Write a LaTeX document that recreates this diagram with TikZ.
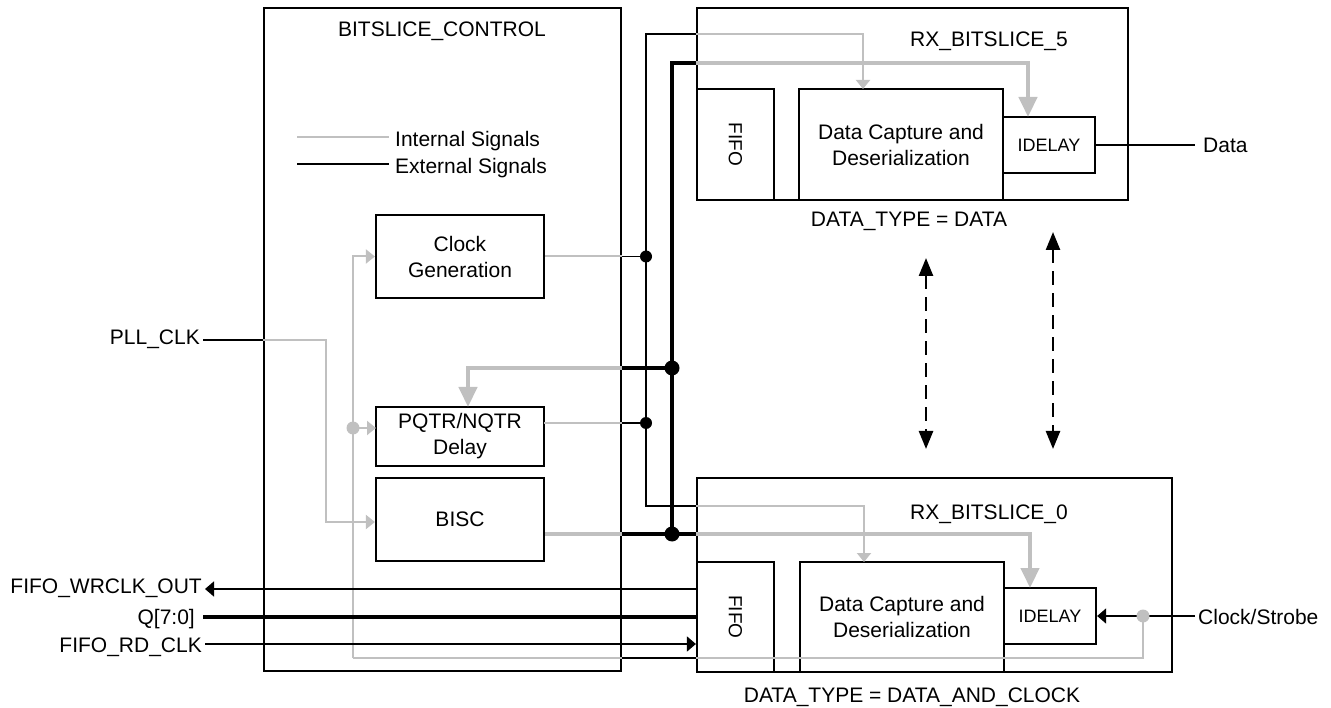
\documentclass[tikz,border=0pt]{standalone}
\usepackage{fontspec}
\setmainfont{Liberation Sans}
\usetikzlibrary{arrows.meta}
\definecolor{sig}{RGB}{192,192,192}
\newcommand\dfont{\fontsize{21}{26}\selectfont}
\begin{document}
\begin{tikzpicture}[x=1pt,y=-1pt,
  every node/.style={font=\dfont, inner sep=0pt},
  blk/.style={draw, line width=2.2pt, align=center},
  ext/.style={line width=1.6pt, draw=black},
  extw/.style={line width=4pt, draw=black},
  intl/.style={line width=2pt, draw=sig},
  intw/.style={line width=4.5pt, draw=sig},
  ta/.style={-{Triangle[length=9pt,width=14pt]}},
  tw/.style={-{Triangle[length=20pt,width=18pt]}},
  tb/.style={-{Triangle[length=9pt,width=15pt]}},
  dd/.style={line width=2.5pt, dash pattern=on 14pt off 8pt,
    {Triangle[length=18pt,width=14pt]}-{Triangle[length=18pt,width=14pt]}},
]
\path[use as bounding box] (0,0) rectangle (1331,708);

% ---------- blocks ----------
\node[blk, minimum width=357pt, minimum height=663pt] (ctrl) at (442.5,339.5) {};
\node[blk, minimum width=168pt, minimum height=83pt] (cg) at (460,256.5) {Clock\\Generation};
\node[blk, minimum width=168pt, minimum height=59pt] (pq) at (460,436.5) {PQTR/NQTR\\Delay};
\node[blk, minimum width=168pt, minimum height=83pt] (bisc) at (460,519.5) {BISC};

\node[blk, minimum width=431pt, minimum height=192pt] (rx5) at (912.5,104) {};
\node[blk, minimum width=77pt, minimum height=111pt] (fifo5) at (735.5,144.5) {};
\node[font=\fontsize{19}{22}\selectfont, rotate=-90] (fifo5t) at (fifo5.center) {FIFO};
\node[blk, minimum width=204pt, minimum height=111pt] (dcd5) at (901,144.5) {Data Capture and\\Deserialization};
\node[blk, minimum width=92pt, minimum height=56pt, font=\fontsize{18}{22}\selectfont] (idl5) at (1049,145) {IDELAY};

\node[blk, minimum width=475pt, minimum height=194pt] (rx0) at (934.5,575) {};
\node[blk, minimum width=77pt, minimum height=110pt] (fifo0) at (735.5,617) {};
\node[font=\fontsize{19}{22}\selectfont, rotate=-90] (fifo0t) at (fifo0.center) {FIFO};
\node[blk, minimum width=204pt, minimum height=110pt] (dcd0) at (902,617) {Data Capture and\\Deserialization};
\node[blk, minimum width=92pt, minimum height=56pt, font=\fontsize{18}{22}\selectfont] (idl0) at (1050,616) {IDELAY};

% ---------- titles ----------
\node[anchor=base] (tctrl) at (442,37) {BITSLICE\_CONTROL};
\node[anchor=base] (trx5) at (989,47) {RX\_BITSLICE\_5};
\node[anchor=base] (trx0) at (989,519) {RX\_BITSLICE\_0};
\node[anchor=base] (dt5) at (909,227) {DATA\_TYPE = DATA};
\node[anchor=base] (dt0) at (912,702) {DATA\_TYPE = DATA\_AND\_CLOCK};

% ---------- legend ----------
\node[anchor=base west] (li) at (395,147) {Internal Signals};
\node[anchor=base west] (le) at (395,174) {External Signals};
\draw[intl] (297,137) -- (389,137);
\draw[ext] (297,164) -- (389,164);

% ---------- external labels ----------
\node[anchor=base west] (dat) at (1203,153) {Data};
\node[anchor=base west] (cs) at (1198,624) {Clock/Strobe};
\node[anchor=base east] (pll) at (200,345) {PLL\_CLK};
\node[anchor=base east] (wr) at (202,593) {FIFO\_WRCLK\_OUT};
\node[anchor=base east] (q) at (195,624) {Q[7:0]};
\node[anchor=base east] (rd) at (202,652) {FIFO\_RD\_CLK};

% ---------- coordinates ----------
\coordinate (tT) at (646,34);
\coordinate (tB) at (646,506);
\coordinate (kT) at (672,63);
\coordinate (kM) at (672,368);
\coordinate (kB) at (672,534);
\coordinate (a5) at (863,89);
\coordinate (a0) at (864,562);
\coordinate (w5) at (1028,117);
\coordinate (w0) at (1030,588);
\coordinate (wp) at (468,407);
\coordinate (pqo) at (544,423);
\coordinate (pqi) at (376,428);
\coordinate (gB) at (353,658);
\coordinate (gD) at (353,428);
\coordinate (cD) at (1143,616);
\coordinate (yP) at (0,340);
\coordinate (yB) at (0,522);
\coordinate (pX) at (326,0);
\coordinate (yW) at (0,589);
\coordinate (yQ) at (0,617);
\coordinate (yR) at (0,644);

% ---------- thin external bus ----------
\draw[ext] (tT -| rx5.west) -- (tT) -- (tB) -- (tB -| rx0.west);
\draw[intl, ta] (tT -| rx5.west) -- (tT -| a5) -- (a5);
\draw[intl, ta] (tB -| rx0.west) -- (tB -| a0) -- (a0);

% clock generation output
\draw[intl] (cg.east) -- (cg.east -| ctrl.east);
\draw[ext] (cg.east -| ctrl.east) -- (cg.east -| tT);
\fill (cg.east -| tT) circle (6pt);
% PQTR output
\draw[intl] (pqo) -- (pqo -| ctrl.east);
\draw[ext] (pqo -| ctrl.east) -- (pqo -| tT);
\fill (pqo -| tT) circle (6pt);

% ---------- thick bus ----------
\draw[extw] (kB) -- (kT) -- (kT -| rx5.west);
\draw[intw, tw] (kT -| rx5.west) -- (kT -| w5) -- (w5);
\draw[extw] (kM) -- (kM -| ctrl.east);
\draw[intw, tw] (kM -| ctrl.east) -- (kM -| wp) -- (wp);
\draw[intw] (kB -| bisc.east) -- (kB -| ctrl.east);
\draw[extw] (kB -| ctrl.east) -- (kB -| rx0.west);
\draw[intw, tw] (kB -| rx0.west) -- (kB -| w0) -- (w0);
\fill (kM) circle (7.5pt);
\fill (kB) circle (7.5pt);

% ---------- grey clock distribution ----------
\draw[intl, ta] (gB) -- (gB |- cg.west) -- (cg.west);
\draw[intl, ta] (gD) -- (pqi);
\fill[sig] (gD) circle (6.5pt);
\draw[intl] (gB) -- (gB -| ctrl.east);
\draw[ext] (gB -| ctrl.east) -- (gB -| rx0.west);
\draw[intl] (gB -| rx0.west) -- (gB -| cD) -- (cD);

% PLL_CLK
\draw[ext] ([xshift=3pt]pll.east |- yP) -- (ctrl.west |- yP);
\draw[intl, ta] (ctrl.west |- yP) -- (pX |- yP) -- (pX |- yB) -- (bisc.west |- yB);

% ---------- external I/O ----------
\draw[ext] (idl5.east) -- ([xshift=-8pt]dat.west |- idl5.east);
\draw[ext, tb] ([xshift=-3pt]cs.west |- idl0.east) -- (idl0.east);
\fill[sig] (cD) circle (6.5pt);
\draw[ext, tb] (fifo0.west |- yW) -- ([xshift=3pt]wr.east |- yW);
\draw[extw] ([xshift=8pt]q.east |- yQ) -- (fifo0.west |- yQ);
\draw[ext, tb] ([xshift=3pt]rd.east |- yR) -- (fifo0.west |- yR);

% ---------- dashed double arrows ----------
\coordinate (d1a) at (926,258);
\coordinate (d1b) at (926,449);
\coordinate (d2a) at (1053,232);
\coordinate (d2b) at (1053,449);
\draw[dd] (d1a) -- (d1b);
\draw[dd] (d2a) -- (d2b);
\end{tikzpicture}
\end{document}
